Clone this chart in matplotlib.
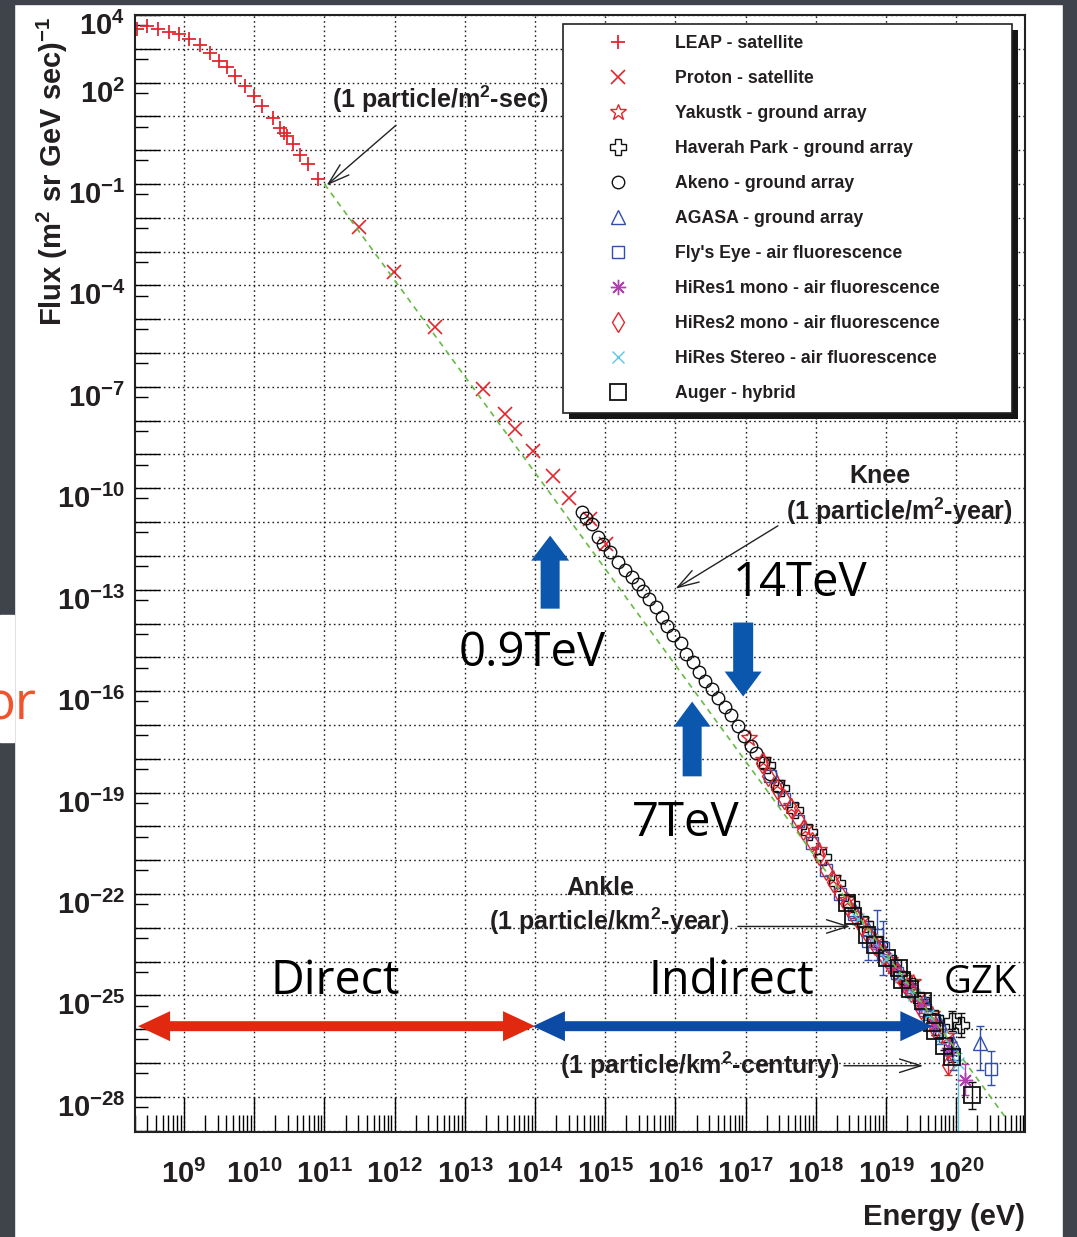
import numpy as np
import matplotlib
matplotlib.use("Agg")
import matplotlib.pyplot as plt
import matplotlib.transforms as mtransforms
from matplotlib.patches import Rectangle, Polygon
from matplotlib.ticker import LogLocator, FuncFormatter, NullFormatter

plt.rcParams['font.family'] = ['Liberation Sans', 'DejaVu Sans']
plt.rcParams['mathtext.fontset'] = 'custom'
plt.rcParams['mathtext.rm'] = 'Liberation Sans'
plt.rcParams['mathtext.bf'] = 'Liberation Sans:bold'
plt.rcParams['mathtext.default'] = 'bf'

# ---- data: log10(E / eV) and log10(flux) ----
leap_logE = [8.33, 8.47, 8.63, 8.79, 8.93, 9.07, 9.23, 9.37, 9.50, 9.61, 9.73, 9.87,
             10.00, 10.11, 10.27, 10.37, 10.43, 10.47, 10.55, 10.65, 10.77, 10.91]
leap_logF = [3.60, 3.66, 3.60, 3.51, 3.45, 3.28, 3.10, 2.89, 2.63, 2.45, 2.21, 1.89,
             1.59, 1.30, 0.94, 0.67, 0.52, 0.43, 0.17, -0.13, -0.42, -0.84]

proton_logE = [11.49, 11.99, 12.58, 13.26, 13.57, 13.72, 13.97, 14.26, 14.49, 14.79, 15.01]
proton_logF = [-2.28, -3.61, -5.23, -7.06, -7.80, -8.25, -8.90, -9.63, -10.28, -10.90, -11.64]

akeno_logE = [14.67, 14.73, 14.81, 14.90, 14.97, 15.07, 15.18, 15.28, 15.38, 15.46, 15.54,
              15.63, 15.73, 15.81, 15.88, 15.97, 16.08, 16.15, 16.25, 16.34, 16.42, 16.52,
              16.61, 16.70, 16.79, 16.89, 16.97, 17.07, 17.15, 17.25, 17.35, 17.45]
akeno_logF = [-10.70, -10.87, -11.05, -11.44, -11.64, -11.88, -12.17, -12.41, -12.62, -12.82,
              -13.03, -13.27, -13.50, -13.80, -14.07, -14.33, -14.57, -14.89, -15.13, -15.42,
              -15.69, -15.93, -16.19, -16.46, -16.72, -17.02, -17.32, -17.61, -17.82, -18.12,
              -18.45, -18.80]

yakutsk_logE = [17.05, 17.25, 17.45, 17.65, 17.85, 18.05, 18.25, 18.45, 18.65, 18.85,
                19.05, 19.25, 19.39, 19.45, 19.65, 19.85]
yakutsk_logF = [-17.39, -18.05, -18.73, -19.39, -20.04, -20.70, -21.54, -22.18, -22.78,
                -23.37, -23.94, -24.48, -24.60, -25.02, -25.55, -26.20]

haverah_logE = [17.30, 17.50, 17.70, 17.90, 18.10, 18.30, 18.50, 18.70, 18.90, 19.10,
                19.30, 19.50, 19.70, 19.94, 20.07]
haverah_logF = [-18.19, -18.86, -19.52, -20.17, -20.92, -21.67, -22.30, -22.90, -23.48,
                -24.05, -24.58, -25.13, -25.68, -25.76, -25.88]
haverah_err = [0, 0, 0, 0, 0, 0, 0, 0, 0, 0, 0.06, 0.1, 0.15, 0.3, 0.35]

agasa_logE = [18.55, 18.75, 18.95, 19.15, 19.35, 19.55, 19.75, 19.95, 20.34]
agasa_logF = [-22.45, -23.05, -23.63, -24.18, -24.72, -25.23, -25.79, -26.42, -26.41]
agasa_err_lo = [0, 0, 0.05, 0.07, 0.1, 0.15, 0.25, 0.35, 0.80]
agasa_err_hi = [0, 0, 0.05, 0.07, 0.1, 0.13, 0.2, 0.3, 0.50]

flyseye_logE = [17.35, 17.55, 17.75, 17.95, 18.15, 18.35, 18.55, 18.75, 18.87, 18.96,
                19.15, 19.35, 19.55, 19.75, 19.95, 20.49]
flyseye_logF = [-18.51, -19.18, -19.84, -20.49, -21.29, -21.99, -22.60, -23.38, -23.20,
                -23.60, -24.33, -24.87, -25.43, -26.04, -26.72, -27.18]
flyseye_err_lo = [0, 0, 0, 0, 0, 0, 0.1, 0.57, 0.75, 0.8, 0.15, 0.2, 0.3, 0.4, 0.5, 0.47]
flyseye_err_hi = [0, 0, 0, 0, 0, 0, 0.1, 0.57, 0.73, 0.8, 0.15, 0.2, 0.25, 0.3, 0.35, 0.53]

hires1_logE = [18.90, 19.10, 19.30, 19.50, 19.70, 19.90, 20.13]
hires1_logF = [-23.63, -24.20, -24.73, -25.28, -25.88, -26.55, -27.49]
hires1_err = [0.05, 0.06, 0.08, 0.1, 0.15, 0.25, 0.45]

hires2_logE = [17.24, 17.32, 17.45, 17.54, 17.64, 17.74, 17.82, 17.95, 18.05, 18.15, 18.25,
               18.35, 18.45, 18.55, 18.65, 18.75, 18.85, 18.95, 19.05, 19.15, 19.25, 19.35,
               19.50, 19.70, 19.89]
hires2_logF = [-18.14, -18.52, -18.88, -19.18, -19.47, -19.77, -20.12, -20.45, -20.85, -21.30,
               -21.65, -22.00, -22.32, -22.62, -22.92, -23.20, -23.50, -23.80, -24.08, -24.35,
               -24.62, -24.90, -25.40, -26.00, -27.05]
hires2_err = [0] * 20 + [0.06, 0.08, 0.12, 0.18, 0.3]

stereo_logE = [18.60, 18.80, 19.00, 19.20, 19.40, 19.60, 19.80, 20.03]
stereo_logF = [-22.75, -23.35, -23.92, -24.47, -25.00, -25.57, -26.20, -27.00]
stereo_err_lo = [0, 0, 0.05, 0.07, 0.1, 0.14, 0.2, 5.0]
stereo_err_hi = [0, 0, 0.05, 0.07, 0.1, 0.12, 0.15, 0.3]

auger_logE = [18.45, 18.53, 18.73, 18.85, 19.02, 19.18, 19.23, 19.34, 19.52, 19.66, 19.70,
              19.82, 19.94, 20.23]
auger_logF = [-22.28, -22.64, -23.22, -23.52, -23.90, -24.20, -24.55, -24.80, -25.17, -25.83,
              -26.06, -26.50, -26.82, -27.95]
auger_err = [0, 0, 0, 0, 0, 0, 0, 0.04, 0.06, 0.08, 0.1, 0.12, 0.15, 0.40]

fit_logE = [11.0, 20.73]
fit_logF = [-1.0, -28.69]

x_label_exps = list(range(9, 21))
y_label_exps = [4, 2, -1, -4, -7, -10, -13, -16, -19, -22, -25, -28]

# ---- figure ----
W, H = 1077, 1237
fig = plt.figure(figsize=(W / 100, H / 100), dpi=100)
fig.patch.set_facecolor('white')
dark = '#3f444c'
for rx, ry, rw, rh in [(0, 0, 14, H), (0, 0, W, 4), (1063, 0, 14, H)]:
    fig.add_artist(Rectangle((rx / W, 1 - (ry + rh) / H), rw / W, rh / H,
                             transform=fig.transFigure, color=dark, zorder=-2))
fig.add_artist(Rectangle((0, 1 - 742 / H), 14 / W, 127 / H,
                         transform=fig.transFigure, color='white', zorder=-1))
fig.text(36 / W, 1 - 706 / H, 'or', family='Open Sans', fontsize=37, color='#f0542c',
         ha='right', va='center')

ax = fig.add_axes([135 / W, 1 - 1132 / H, 890 / W, 1117 / H])
ax.set_xscale('log')
ax.set_yscale('log')
ax.set_xlim(2e8, 10 ** 20.98)
ax.set_ylim(10 ** -29.04, 1e4)

txt = '#231f20'
red = '#e3262d'
blue = '#2f4fa8'
magenta = '#b03fb0'
cyan = '#5cc6df'
black = '#111111'


def series(logE, logF, **kw):
    line, = ax.plot(10 ** np.asarray(logE), 10 ** np.asarray(logF), ls='none', **kw)
    return line


def bars(logE, logF, lo, hi, color):
    logE = np.asarray(logE); logF = np.asarray(logF)
    lo = np.asarray(lo, float); hi = np.asarray(hi, float)
    m = (lo > 0) | (hi > 0)
    F = 10 ** logF[m]
    yerr = [F - 10 ** (logF[m] - lo[m]), 10 ** (logF[m] + hi[m]) - F]
    ax.errorbar(10 ** logE[m], F, yerr=yerr, fmt='none', ecolor=color,
                elinewidth=1.0, capsize=3, capthick=1.0, zorder=2)


bars(haverah_logE, haverah_logF, haverah_err, haverah_err, black)
bars(agasa_logE, agasa_logF, agasa_err_lo, agasa_err_hi, blue)
bars(flyseye_logE, flyseye_logF, flyseye_err_lo, flyseye_err_hi, blue)
bars(hires1_logE, hires1_logF, hires1_err, hires1_err, magenta)
bars(hires2_logE, hires2_logF, hires2_err, hires2_err, red)
bars(stereo_logE, stereo_logF, stereo_err_lo, stereo_err_hi, cyan)
bars(auger_logE, auger_logF, auger_err, auger_err, black)

h = []
h.append(series(leap_logE, leap_logF, marker='+', ms=10, mew=1.3, color=red))
h.append(series(proton_logE, proton_logF, marker='x', ms=10, mew=1.2, color=red))
h.append(series(yakutsk_logE, yakutsk_logF, marker='*', ms=12, mew=1.0, mfc='none', color=red))
h.append(series(haverah_logE, haverah_logF, marker='P', ms=11, mew=1.0, mfc='none', color=black))
h.append(series(akeno_logE, akeno_logF, marker='o', ms=9, mew=1.0, mfc='none', color=black))
h.append(series(agasa_logE, agasa_logF, marker='^', ms=10, mew=1.0, mfc='none', color=blue))
h.append(series(flyseye_logE, flyseye_logF, marker='s', ms=9, mew=1.0, mfc='none', color=blue))
h.append(series(hires1_logE, hires1_logF, marker=(8, 2, 0), ms=11, mew=1.0, color=magenta))
h.append(series(hires2_logE, hires2_logF, marker='d', ms=10, mew=1.0, mfc='none', color=red))
h.append(series(stereo_logE, stereo_logF, marker='x', ms=9, mew=1.0, color=cyan))
h.append(series(auger_logE, auger_logF, marker='s', ms=11, mew=1.3, mfc='none', color=black))

ax.plot(10 ** np.asarray(fit_logE), 10 ** np.asarray(fit_logF), color='#66bb44',
        lw=1.2, ls=(0, (3.5, 3)), zorder=3)

# ---- axes styling (ROOT look) ----
for sp in ax.spines.values():
    sp.set_linewidth(1.5)
    sp.set_color('#222222')
ax.xaxis.set_major_locator(LogLocator(base=10, numticks=100))
ax.xaxis.set_minor_locator(LogLocator(base=10, subs=np.arange(2, 10), numticks=100))
ax.yaxis.set_major_locator(LogLocator(base=10, numticks=100))
ax.yaxis.set_minor_locator(LogLocator(base=10, subs=[5.0], numticks=100))
ax.xaxis.set_minor_formatter(NullFormatter())
ax.yaxis.set_minor_formatter(NullFormatter())


def fmt_x(v, pos):
    e = int(round(np.log10(v)))
    return r'$10^{%d}$' % e if e in x_label_exps else ''


def fmt_y(v, pos):
    e = int(round(np.log10(v)))
    return r'$10^{%d}$' % e if e in y_label_exps else ''


ax.xaxis.set_major_formatter(FuncFormatter(fmt_x))
ax.yaxis.set_major_formatter(FuncFormatter(fmt_y))
ax.tick_params(axis='x', which='major', direction='in', length=25, width=1.0, pad=20,
               labelsize=21, labelcolor=txt, top=False)
ax.tick_params(axis='x', which='minor', direction='in', length=12, width=1.0, top=False)
ax.tick_params(axis='y', which='major', direction='in', length=18, width=1.0, pad=7,
               labelsize=21, labelcolor=txt, right=False)
ax.tick_params(axis='y', which='minor', direction='in', length=9.5, width=1.0, right=False)
ax.grid(True, which='major', ls=(0, (1.2, 2.2)), lw=1.0, color='#222222')
ax.set_axisbelow(True)

shift = mtransforms.ScaledTranslation(0, -6 / 72, fig.dpi_scale_trans)
for lab in ax.get_yticklabels():
    lab.set_transform(lab.get_transform() + shift)

fig.text(52 / W, 1 - 171 / H, r'Flux (m$^{2}$ sr GeV sec)$^{-1}$', rotation=90,
         ha='center', va='center', fontsize=21, weight='bold', color=txt)
fig.text(1025 / W, 1 - 1217 / H, 'Energy (eV)', ha='right', va='center',
         fontsize=21, weight='bold', color=txt)

# ---- legend with hard shadow ----
labels = ['LEAP - satellite', 'Proton - satellite', 'Yakustk - ground array',
          'Haverah Park - ground array', 'Akeno - ground array', 'AGASA - ground array',
          "Fly's Eye - air fluorescence", 'HiRes1 mono - air fluorescence',
          'HiRes2 mono - air fluorescence', 'HiRes Stereo - air fluorescence',
          'Auger - hybrid']
leg = ax.legend(h, labels, loc='upper left',
                bbox_to_anchor=(563 / W, 1 - 408 / H, 449 / W, 384 / H),
                bbox_transform=fig.transFigure, mode='expand', borderaxespad=0,
                borderpad=0.64, labelspacing=1.02, handlelength=4.99, handletextpad=0.73,
                numpoints=1, fancybox=False, framealpha=1, edgecolor='#222222',
                prop={'weight': 'bold', 'size': 12.7}, labelcolor=txt)
leg.get_frame().set_linewidth(1.2)
leg.set_zorder(6)
fig.canvas.draw()
bb = leg.get_window_extent()
ax.add_artist(Rectangle((bb.x0 + 6, bb.y0 - 6), bb.width, bb.height,
                        transform=mtransforms.IdentityTransform(),
                        facecolor='#151515', edgecolor='none', zorder=5.5, clip_on=False))

# ---- annotations ----
def D(le, lf):
    return (10 ** le, 10 ** lf)


aprops = dict(arrowstyle='->,head_length=0.7,head_width=0.22', color='#222222', lw=1.0,
              shrinkA=0, shrinkB=0, mutation_scale=22)
ax.annotate('', xy=D(11.03, -1.04), xytext=D(12.02, 0.74), arrowprops=aprops)
ax.annotate('', xy=D(16.0, -12.97), xytext=D(17.46, -11.11), arrowprops=aprops)
ax.annotate('', xy=D(18.49, -22.96), xytext=D(16.89, -22.96), arrowprops=aprops)
ax.annotate('', xy=D(19.53, -27.08), xytext=D(18.40, -27.08), arrowprops=aprops)

ann = dict(ha='center', va='center', fontsize=18, weight='bold', color=txt)
ax.text(*D(12.65, 1.50), r'(1 particle/m$^{2}$-sec)', **ann)
ax.text(*D(18.92, -9.63), 'Knee', **ann)
ax.text(*D(19.19, -10.67), r'(1 particle/m$^{2}$-year)', **ann)
ax.text(*D(14.93, -21.83), 'Ankle', **ann)
ax.text(*D(15.06, -22.81), r'(1 particle/km$^{2}$-year)', **ann)
ax.text(*D(16.35, -27.08), r'(1 particle/km$^{2}$-century)', **ann)

big = dict(ha='center', va='center', family='Open Sans', color='black')
ax.text(*D(11.15, -24.58), 'Direct', fontsize=33.5, **big)
ax.text(*D(16.79, -24.58), 'Indirect', fontsize=33.5, **big)
ax.text(*D(20.34, -24.64), 'GZK', fontsize=27.5, **big)
ax.text(*D(17.78, -12.82), '14TeV', fontsize=34, **big)
ax.text(*D(13.96, -14.89), '0.9TeV', fontsize=34, **big)
ax.text(*D(16.15, -19.91), '7TeV', fontsize=34, **big)


def block_arrow(p0, p1, shaft_w, head_w, head_l, color, double=False):
    a = ax.transData.transform(p0)
    b = ax.transData.transform(p1)
    u = (b - a) / np.hypot(*(b - a))
    n = np.array([-u[1], u[0]])
    if double:
        v = [a, a + u * head_l + n * head_w / 2, a + u * head_l + n * shaft_w / 2,
             b - u * head_l + n * shaft_w / 2, b - u * head_l + n * head_w / 2, b,
             b - u * head_l - n * head_w / 2, b - u * head_l - n * shaft_w / 2,
             a + u * head_l - n * shaft_w / 2, a + u * head_l - n * head_w / 2]
    else:
        v = [a + n * shaft_w / 2, b - u * head_l + n * shaft_w / 2,
             b - u * head_l + n * head_w / 2, b, b - u * head_l - n * head_w / 2,
             b - u * head_l - n * shaft_w / 2, a - n * shaft_w / 2]
    ax.add_artist(Polygon(v, closed=True, transform=mtransforms.IdentityTransform(),
                          facecolor=color, edgecolor='none', zorder=4))


tev_blue = '#0b57ae'
block_arrow(D(14.215, -13.56), D(14.215, -11.40), 19, 38, 25, tev_blue)
block_arrow(D(16.965, -13.97), D(16.965, -16.16), 20, 37, 25, tev_blue)
block_arrow(D(16.238, -18.52), D(16.238, -16.31), 19, 37, 25, tev_blue)
block_arrow(D(8.345, -25.91), D(14.0, -25.91), 10, 30, 32, '#e1290f', double=True)
block_arrow(D(13.97, -25.91), D(19.66, -25.91), 10, 30, 32, '#0b4ba5', double=True)

fig.savefig('out.png', dpi=100)
